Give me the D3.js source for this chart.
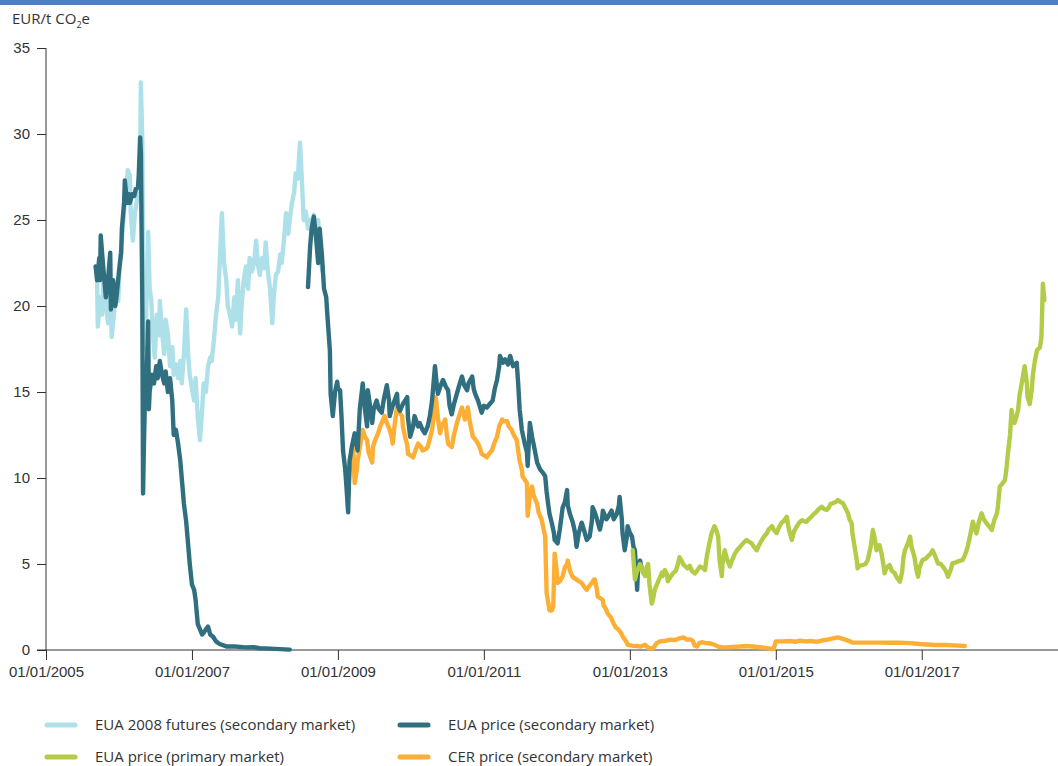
<!DOCTYPE html>
<html>
<head>
<meta charset="utf-8">
<script src="https://cdn.jsdelivr.net/npm/d3@7"></script>
<style>
  body { margin: 0; background: #fff; }
  svg { display: block; font-family: "Open Sans", sans-serif; }
  .axis text { font-size: 15px; fill: #333; }
  .axis path, .axis line { stroke: #333; }
</style>
</head>
<body>
<div id="chart"></div>
<script>
// Data (decimal year, EUR/t CO2e)___________________________

const euaFutures2008 = [
  [2005.70, 21.5], [2005.71, 18.8], [2005.74, 20.5], [2005.77, 19.5], [2005.79, 21.8], [2005.82, 20.2],
  [2005.85, 19.0], [2005.88, 20.8], [2005.90, 18.2], [2005.93, 19.5], [2005.96, 21.0], [2005.99, 20.3],
  [2006.01, 22.5], [2006.04, 23.8], [2006.07, 25.5], [2006.10, 26.8], [2006.12, 27.9], [2006.15, 27.6],
  [2006.16, 25.5], [2006.19, 23.8], [2006.22, 25.5], [2006.25, 26.2], [2006.27, 27.2], [2006.29, 28.5],
  [2006.30, 33.0], [2006.32, 29.5], [2006.33, 22.0], [2006.34, 17.5], [2006.37, 19.0], [2006.40, 24.3],
  [2006.42, 21.0], [2006.44, 20.5], [2006.47, 18.0], [2006.49, 17.0], [2006.52, 19.5], [2006.55, 18.3],
  [2006.56, 20.3], [2006.59, 18.5], [2006.62, 17.2], [2006.64, 19.2], [2006.67, 18.4], [2006.70, 16.5],
  [2006.73, 17.6], [2006.75, 16.0], [2006.78, 16.6], [2006.81, 15.8], [2006.84, 16.8], [2006.86, 15.5],
  [2006.89, 17.2], [2006.92, 19.8], [2006.95, 17.0], [2006.97, 16.0], [2007.00, 15.2], [2007.03, 14.5],
  [2007.05, 15.8], [2007.08, 13.5], [2007.11, 12.2], [2007.14, 14.0], [2007.16, 15.5], [2007.19, 15.0],
  [2007.22, 16.5], [2007.25, 17.0], [2007.27, 16.8], [2007.30, 18.0], [2007.33, 19.5], [2007.36, 20.5],
  [2007.38, 22.5], [2007.41, 25.4], [2007.44, 22.5], [2007.47, 21.5], [2007.49, 20.0], [2007.52, 19.5],
  [2007.55, 18.8], [2007.58, 20.5], [2007.60, 19.2], [2007.63, 21.5], [2007.66, 18.4], [2007.68, 20.0],
  [2007.71, 21.5], [2007.74, 22.3], [2007.77, 21.0], [2007.79, 22.8], [2007.82, 22.0], [2007.85, 22.5],
  [2007.88, 23.8], [2007.90, 22.5], [2007.93, 21.8], [2007.96, 22.8], [2007.99, 22.2], [2008.01, 23.7],
  [2008.04, 22.0], [2008.07, 21.0], [2008.10, 19.0], [2008.12, 20.5], [2008.15, 21.8], [2008.18, 22.0],
  [2008.21, 23.0], [2008.23, 22.5], [2008.26, 23.8], [2008.29, 25.4], [2008.32, 24.2], [2008.34, 25.0],
  [2008.37, 26.0], [2008.40, 26.6], [2008.42, 27.7], [2008.45, 27.4], [2008.48, 29.5], [2008.51, 27.0],
  [2008.53, 25.0], [2008.56, 25.5], [2008.59, 24.5], [2008.62, 25.0], [2008.64, 24.8], [2008.67, 25.3],
  [2008.70, 24.0], [2008.73, 25.0], [2008.75, 23.0], [2008.79, 22.0]
];

const euaSecondaryPhase1 = [
  [2005.68, 22.3], [2005.70, 21.5], [2005.73, 22.8], [2005.74, 21.5], [2005.75, 24.1], [2005.77, 23.0],
  [2005.79, 22.0], [2005.82, 20.5], [2005.85, 21.5], [2005.88, 23.1], [2005.89, 19.8], [2005.92, 21.5],
  [2005.95, 20.0], [2005.97, 20.7], [2006.00, 22.0], [2006.03, 23.1], [2006.04, 24.5], [2006.07, 26.0],
  [2006.08, 27.3], [2006.11, 26.0], [2006.14, 26.5], [2006.15, 26.0], [2006.18, 26.5], [2006.21, 26.4],
  [2006.23, 26.8], [2006.26, 26.9], [2006.27, 27.5], [2006.29, 29.8], [2006.30, 28.9], [2006.32, 20.0],
  [2006.33, 9.1], [2006.34, 11.5], [2006.36, 15.5], [2006.38, 16.0], [2006.40, 19.1], [2006.41, 14.0],
  [2006.42, 15.0], [2006.45, 16.0], [2006.48, 15.5], [2006.51, 16.5], [2006.53, 15.8], [2006.56, 16.8],
  [2006.59, 16.0], [2006.62, 15.5], [2006.64, 16.2], [2006.67, 15.0], [2006.70, 15.8], [2006.73, 14.5],
  [2006.75, 12.5], [2006.78, 12.8], [2006.81, 12.0], [2006.84, 11.0], [2006.86, 10.0], [2006.89, 8.5],
  [2006.92, 7.5], [2006.95, 6.0], [2006.97, 5.0], [2007.00, 3.8], [2007.03, 3.5], [2007.05, 2.9],
  [2007.08, 1.5], [2007.11, 1.2], [2007.14, 0.9], [2007.16, 1.0], [2007.19, 1.2], [2007.22, 1.36],
  [2007.25, 0.9], [2007.29, 0.77], [2007.33, 0.5], [2007.38, 0.35], [2007.48, 0.2], [2007.59, 0.2],
  [2007.73, 0.15], [2007.84, 0.17], [2007.93, 0.1], [2008.07, 0.08], [2008.21, 0.05], [2008.34, 0.02]
];

const euaSecondaryPhase2 = [
  [2008.59, 21.1], [2008.62, 23.5], [2008.64, 24.5], [2008.67, 25.2], [2008.70, 24.0], [2008.73, 22.5],
  [2008.75, 24.5], [2008.78, 23.0], [2008.81, 21.0], [2008.84, 20.5], [2008.85, 19.8], [2008.88, 18.0],
  [2008.89, 17.4], [2008.90, 14.9], [2008.93, 13.6], [2008.96, 15.0], [2008.99, 15.6], [2009.00, 15.2],
  [2009.03, 15.1], [2009.05, 13.5], [2009.07, 11.6], [2009.10, 10.5], [2009.12, 9.3], [2009.14, 8.0],
  [2009.15, 9.5], [2009.16, 11.0], [2009.19, 11.8], [2009.23, 12.6], [2009.27, 11.6], [2009.30, 14.0],
  [2009.34, 15.5], [2009.37, 14.0], [2009.40, 13.0], [2009.41, 15.1], [2009.44, 14.2], [2009.47, 13.2],
  [2009.49, 14.0], [2009.53, 14.5], [2009.56, 14.0], [2009.60, 13.8], [2009.63, 14.6], [2009.67, 15.4],
  [2009.70, 14.5], [2009.71, 13.6], [2009.75, 14.2], [2009.81, 14.9], [2009.82, 14.2], [2009.85, 13.9],
  [2009.89, 14.3], [2009.95, 14.7], [2009.96, 13.5], [2009.99, 12.4], [2010.03, 13.0], [2010.05, 13.6],
  [2010.10, 13.0], [2010.12, 13.2], [2010.16, 12.8], [2010.19, 12.6], [2010.23, 13.0], [2010.26, 13.6],
  [2010.29, 14.5], [2010.33, 16.5], [2010.36, 15.2], [2010.37, 14.9], [2010.41, 15.4], [2010.44, 15.7],
  [2010.48, 15.3], [2010.51, 15.1], [2010.53, 14.2], [2010.56, 13.7], [2010.59, 14.3], [2010.63, 14.9],
  [2010.67, 15.5], [2010.70, 15.9], [2010.73, 15.4], [2010.77, 15.1], [2010.79, 15.5], [2010.84, 15.9],
  [2010.86, 15.2], [2010.88, 14.9], [2010.92, 14.5], [2010.97, 13.8], [2011.00, 14.2], [2011.04, 14.1],
  [2011.08, 14.3], [2011.12, 14.5], [2011.15, 15.2], [2011.18, 15.7], [2011.21, 16.5], [2011.22, 17.1],
  [2011.26, 16.7], [2011.29, 16.9], [2011.33, 16.6], [2011.36, 17.1], [2011.40, 16.5], [2011.45, 16.7],
  [2011.47, 15.5], [2011.49, 14.0], [2011.52, 12.8], [2011.56, 12.0], [2011.59, 11.5], [2011.60, 10.7],
  [2011.63, 13.2], [2011.66, 12.4], [2011.68, 12.0], [2011.73, 10.9], [2011.77, 10.5], [2011.81, 10.3],
  [2011.84, 10.1], [2011.86, 9.2], [2011.88, 8.5], [2011.90, 7.9], [2011.93, 7.4], [2011.96, 6.8],
  [2011.97, 6.4], [2012.01, 6.2], [2012.04, 7.0], [2012.08, 8.3], [2012.11, 8.6], [2012.14, 9.3],
  [2012.15, 8.4], [2012.18, 7.9], [2012.22, 7.4], [2012.25, 6.8], [2012.27, 6.0], [2012.30, 6.8],
  [2012.34, 7.4], [2012.37, 7.0], [2012.41, 6.4], [2012.45, 6.6], [2012.48, 7.5], [2012.49, 8.3],
  [2012.52, 8.0], [2012.55, 7.6], [2012.59, 7.0], [2012.62, 7.6], [2012.63, 8.1], [2012.66, 7.8],
  [2012.68, 7.6], [2012.71, 7.8], [2012.75, 8.1], [2012.78, 7.6], [2012.82, 7.9], [2012.85, 8.4],
  [2012.86, 8.9], [2012.89, 7.6], [2012.90, 6.8], [2012.93, 5.8], [2012.96, 6.6], [2012.97, 7.2],
  [2013.00, 6.8], [2013.03, 6.6], [2013.05, 6.0], [2013.07, 5.8], [2013.10, 3.5], [2013.11, 4.5],
  [2013.14, 5.2], [2013.16, 4.8]
];

const cerSecondary = [
  [2009.14, 8.9], [2009.15, 9.8], [2009.16, 10.7], [2009.19, 11.5], [2009.21, 11.8], [2009.22, 10.5],
  [2009.23, 9.7], [2009.26, 10.5], [2009.27, 11.0], [2009.30, 11.8], [2009.33, 12.5], [2009.34, 12.8],
  [2009.37, 12.4], [2009.40, 12.2], [2009.42, 11.5], [2009.47, 10.9], [2009.48, 11.8], [2009.51, 12.2],
  [2009.55, 12.6], [2009.58, 13.0], [2009.60, 13.2], [2009.64, 13.6], [2009.67, 13.2], [2009.71, 12.8],
  [2009.74, 12.3], [2009.75, 12.0], [2009.78, 13.2], [2009.81, 14.1], [2009.84, 13.8], [2009.88, 13.6],
  [2009.89, 13.0], [2009.92, 12.4], [2009.95, 11.9], [2009.96, 11.4], [2010.00, 11.3], [2010.03, 11.2],
  [2010.07, 11.7], [2010.10, 12.0], [2010.14, 11.8], [2010.16, 11.6], [2010.21, 11.7], [2010.23, 11.8],
  [2010.26, 12.3], [2010.29, 12.8], [2010.32, 13.8], [2010.34, 14.7], [2010.37, 13.5], [2010.40, 12.6],
  [2010.42, 13.0], [2010.47, 13.4], [2010.49, 12.6], [2010.51, 12.0], [2010.53, 11.9], [2010.56, 11.8],
  [2010.59, 12.5], [2010.63, 13.2], [2010.66, 13.6], [2010.70, 14.1], [2010.73, 13.6], [2010.74, 13.4],
  [2010.77, 13.8], [2010.78, 14.1], [2010.81, 13.2], [2010.85, 12.4], [2010.89, 12.2], [2010.92, 12.0],
  [2010.95, 11.7], [2010.97, 11.4], [2011.01, 11.3], [2011.04, 11.2], [2011.07, 11.4], [2011.11, 11.6],
  [2011.14, 12.0], [2011.18, 12.4], [2011.21, 13.0], [2011.25, 13.4], [2011.27, 13.3], [2011.32, 13.3],
  [2011.34, 13.0], [2011.38, 12.8], [2011.41, 12.5], [2011.45, 12.2], [2011.47, 11.6], [2011.49, 11.0],
  [2011.52, 10.5], [2011.53, 10.1], [2011.56, 9.9], [2011.59, 9.7], [2011.60, 7.8], [2011.63, 9.0],
  [2011.66, 9.5], [2011.68, 9.0], [2011.73, 8.5], [2011.75, 8.0], [2011.79, 7.6], [2011.82, 7.0],
  [2011.84, 6.6], [2011.85, 5.0], [2011.86, 3.3], [2011.88, 2.8], [2011.90, 2.3], [2011.93, 2.3],
  [2011.95, 2.5], [2011.96, 4.0], [2011.97, 5.6], [2012.00, 4.5], [2012.01, 3.9], [2012.04, 4.0],
  [2012.07, 4.2], [2012.08, 4.3], [2012.11, 4.8], [2012.14, 5.0], [2012.15, 5.2], [2012.18, 4.6],
  [2012.21, 4.3], [2012.23, 4.2], [2012.27, 4.1], [2012.30, 4.0], [2012.34, 3.9], [2012.37, 3.7],
  [2012.41, 3.5], [2012.44, 3.7], [2012.48, 3.9], [2012.51, 4.1], [2012.52, 4.1], [2012.55, 3.5],
  [2012.56, 3.1], [2012.60, 3.0], [2012.63, 2.9], [2012.64, 2.6], [2012.67, 2.4], [2012.70, 2.1],
  [2012.74, 1.9], [2012.77, 1.6], [2012.81, 1.3], [2012.84, 1.2], [2012.88, 1.0], [2012.90, 0.8],
  [2012.95, 0.5], [2012.97, 0.3], [2013.03, 0.25], [2013.10, 0.23], [2013.15, 0.2], [2013.21, 0.3],
  [2013.26, 0.1], [2013.32, 0.1], [2013.37, 0.4], [2013.41, 0.5], [2013.48, 0.52], [2013.55, 0.6],
  [2013.62, 0.58], [2013.68, 0.68], [2013.74, 0.73], [2013.78, 0.6], [2013.82, 0.62], [2013.86, 0.55],
  [2013.89, 0.25], [2013.92, 0.2], [2013.95, 0.4], [2013.99, 0.45], [2014.04, 0.4], [2014.10, 0.39],
  [2014.15, 0.32], [2014.21, 0.2], [2014.26, 0.15], [2014.34, 0.16], [2014.42, 0.18], [2014.51, 0.2],
  [2014.60, 0.23], [2014.68, 0.2], [2014.78, 0.16], [2014.86, 0.12], [2014.95, 0.06], [2014.97, 0.05],
  [2015.00, 0.5], [2015.08, 0.5], [2015.19, 0.52], [2015.27, 0.48], [2015.33, 0.54], [2015.41, 0.5],
  [2015.49, 0.52], [2015.56, 0.48], [2015.63, 0.55], [2015.71, 0.6], [2015.78, 0.68], [2015.85, 0.73],
  [2015.92, 0.65], [2015.99, 0.55], [2016.05, 0.43], [2016.15, 0.43], [2016.29, 0.43], [2016.42, 0.43],
  [2016.56, 0.42], [2016.70, 0.43], [2016.84, 0.4], [2016.97, 0.35], [2017.08, 0.32], [2017.18, 0.29],
  [2017.32, 0.29], [2017.45, 0.27], [2017.59, 0.23]
];

const euaPrimary = [
  [2013.04, 5.8], [2013.07, 4.1], [2013.10, 4.6], [2013.11, 4.65], [2013.14, 5.0], [2013.16, 4.8],
  [2013.18, 4.5], [2013.21, 4.3], [2013.23, 4.8], [2013.25, 5.0], [2013.27, 3.8], [2013.30, 2.7],
  [2013.32, 3.0], [2013.34, 3.5], [2013.37, 3.8], [2013.38, 3.9], [2013.41, 4.2], [2013.44, 4.5],
  [2013.45, 4.3], [2013.48, 4.65], [2013.51, 4.4], [2013.52, 4.0], [2013.55, 4.2], [2013.59, 4.45],
  [2013.63, 4.6], [2013.66, 5.0], [2013.68, 5.4], [2013.71, 5.2], [2013.73, 5.0], [2013.75, 4.9],
  [2013.79, 4.75], [2013.82, 4.9], [2013.85, 4.6], [2013.89, 4.45], [2013.92, 4.6], [2013.96, 4.85],
  [2013.99, 4.8], [2014.03, 4.65], [2014.05, 5.3], [2014.07, 5.8], [2014.10, 6.4], [2014.12, 6.8],
  [2014.16, 7.2], [2014.19, 6.9], [2014.21, 6.6], [2014.23, 5.2], [2014.26, 4.3], [2014.27, 5.0],
  [2014.30, 5.8], [2014.33, 5.3], [2014.37, 4.85], [2014.40, 5.2], [2014.44, 5.6], [2014.47, 5.8],
  [2014.51, 6.0], [2014.55, 6.2], [2014.60, 6.4], [2014.63, 6.3], [2014.67, 6.2], [2014.70, 6.0],
  [2014.74, 5.8], [2014.77, 6.1], [2014.81, 6.4], [2014.84, 6.6], [2014.88, 6.8], [2014.90, 7.0],
  [2014.95, 7.2], [2014.97, 7.0], [2015.01, 6.8], [2015.04, 7.1], [2015.08, 7.4], [2015.11, 7.5],
  [2015.15, 7.75], [2015.18, 7.0], [2015.22, 6.4], [2015.25, 6.9], [2015.29, 7.2], [2015.32, 7.4],
  [2015.36, 7.55], [2015.38, 7.5], [2015.42, 7.45], [2015.45, 7.6], [2015.49, 7.75], [2015.52, 7.9],
  [2015.56, 8.05], [2015.59, 8.2], [2015.63, 8.33], [2015.66, 8.2], [2015.70, 8.14], [2015.73, 8.3],
  [2015.75, 8.5], [2015.78, 8.53], [2015.82, 8.6], [2015.85, 8.72], [2015.89, 8.6], [2015.92, 8.53],
  [2015.96, 8.2], [2015.99, 7.95], [2016.01, 7.6], [2016.04, 7.36], [2016.05, 6.8], [2016.08, 6.0],
  [2016.11, 5.2], [2016.12, 4.75], [2016.15, 4.9], [2016.19, 4.94], [2016.23, 5.0], [2016.26, 5.23],
  [2016.30, 6.0], [2016.33, 6.98], [2016.36, 6.4], [2016.38, 5.8], [2016.40, 6.0], [2016.42, 6.1],
  [2016.45, 5.6], [2016.48, 4.8], [2016.49, 4.46], [2016.52, 4.8], [2016.56, 4.94], [2016.59, 4.6],
  [2016.63, 4.46], [2016.66, 4.2], [2016.70, 3.97], [2016.73, 4.5], [2016.75, 5.4], [2016.77, 5.8],
  [2016.81, 6.2], [2016.84, 6.6], [2016.86, 6.0], [2016.90, 5.4], [2016.93, 4.6], [2016.95, 4.26],
  [2016.97, 4.8], [2017.01, 5.23], [2017.05, 5.3], [2017.08, 5.43], [2017.12, 5.6], [2017.15, 5.8],
  [2017.19, 5.4], [2017.22, 5.04], [2017.26, 5.0], [2017.29, 4.85], [2017.33, 4.6], [2017.36, 4.26],
  [2017.40, 4.7], [2017.42, 5.04], [2017.47, 5.1], [2017.49, 5.14], [2017.53, 5.2], [2017.56, 5.23],
  [2017.60, 5.6], [2017.63, 6.01], [2017.67, 6.8], [2017.70, 7.46], [2017.73, 7.0], [2017.75, 6.78],
  [2017.78, 7.4], [2017.82, 7.95], [2017.85, 7.6], [2017.89, 7.36], [2017.92, 7.2], [2017.96, 6.98],
  [2017.99, 7.5], [2018.03, 7.95], [2018.04, 8.2], [2018.07, 9.5], [2018.11, 9.7], [2018.14, 9.88],
  [2018.16, 10.5], [2018.18, 11.4], [2018.21, 12.5], [2018.23, 13.95], [2018.25, 13.4], [2018.27, 13.2],
  [2018.30, 13.6], [2018.32, 13.95], [2018.34, 14.8], [2018.37, 15.5], [2018.41, 16.5], [2018.44, 15.5],
  [2018.45, 14.7], [2018.48, 14.3], [2018.51, 15.2], [2018.52, 15.9], [2018.55, 16.8], [2018.58, 17.44],
  [2018.62, 17.6], [2018.64, 18.2], [2018.66, 21.3], [2018.67, 20.8], [2018.68, 20.35]
];

const xTicks = [2005, 2007, 2009, 2011, 2013, 2015, 2017];
const yTicks = [0, 5, 10, 15, 20, 25, 30, 35];
const unitLabel = "EUR/t CO";

const legendItems = [
  { label: "EUA 2008 futures (secondary market)", color: "#aee0ea" },
  { label: "EUA price (secondary market)", color: "#306f80" },
  { label: "EUA price (primary market)", color: "#b3cc47" },
  { label: "CER price (secondary market)", color: "#fdae34" }
];

// Layout____________________________________________________
const width = 1058;
const height = 766;
const plotLeft = 46;
const plotTop = 48;
const plotBottom = 650;

const svg = d3.select("#chart")
  .append("svg")
  .attr("width", width)
  .attr("height", height);

// top banner
svg.append("rect")
  .attr("x", 0).attr("y", 0)
  .attr("width", width).attr("height", 5)
  .attr("fill", "#4f81bd");

// Scales____________________________________________________
const xScale = d3.scaleLinear()
  .domain([2005, 2018.73])
  .range([plotLeft, 1048]);

const yScale = d3.scaleLinear()
  .domain([0, 35])
  .range([plotBottom, plotTop]);

// unit label
const unit = svg.append("text")
  .attr("x", 12)
  .attr("y", 24)
  .attr("fill", "#333")
  .style("font-size", "15px");
unit.append("tspan").text(unitLabel);
unit.append("tspan").attr("dy", 4).style("font-size", "9px").text("2");
unit.append("tspan").attr("dy", -4).text("e");

// Axes______________________________________________________
const yAxis = d3.axisLeft(yScale)
  .tickValues(yTicks)
  .tickSize(9)
  .tickPadding(7)
  .tickSizeOuter(0);

svg.append("g")
  .attr("class", "axis")
  .attr("transform", `translate(${plotLeft},0)`)
  .call(yAxis)
  .call(g => g.select(".domain").remove())
  .call(g => g.append("line")
    .attr("x1", 0).attr("x2", 0)
    .attr("y1", plotTop).attr("y2", plotBottom)
    .attr("stroke", "#333"));

const xAxis = d3.axisBottom(xScale)
  .tickValues(xTicks)
  .tickFormat(d => "01/01/" + d)
  .tickSize(10)
  .tickPadding(6)
  .tickSizeOuter(0);

svg.append("g")
  .attr("class", "axis")
  .attr("transform", `translate(0,${plotBottom})`)
  .call(xAxis)
  .call(g => g.select(".domain").remove())
  .call(g => g.append("line")
    .attr("x1", 37).attr("x2", width)
    .attr("y1", 0).attr("y2", 0)
    .attr("stroke", "#333"));

// Lines_____________________________________________________
const line = d3.line()
  .x(d => xScale(d[0]))
  .y(d => yScale(d[1]));

const series = [
  { data: euaFutures2008, color: legendItems[0].color },
  { data: cerSecondary, color: legendItems[3].color },
  { data: euaSecondaryPhase1, color: legendItems[1].color },
  { data: euaSecondaryPhase2, color: legendItems[1].color },
  { data: euaPrimary, color: legendItems[2].color }
];

svg.append("g")
  .selectAll("path")
  .data(series)
  .enter()
  .append("path")
  .attr("d", d => line(d.data))
  .attr("fill", "none")
  .attr("stroke", d => d.color)
  .attr("stroke-width", 4.4)
  .attr("stroke-linejoin", "round")
  .attr("stroke-linecap", "round");

// Legend____________________________________________________
const legend = svg.append("g")
  .selectAll("g")
  .data(legendItems)
  .enter()
  .append("g")
  .attr("transform", (d, i) => `translate(${i % 2 === 0 ? 45 : 398},${i < 2 ? 725 : 757})`);

legend.append("line")
  .attr("x1", 2).attr("x2", 30)
  .attr("y1", 0).attr("y2", 0)
  .attr("stroke", d => d.color)
  .attr("stroke-width", 5)
  .attr("stroke-linecap", "round");

legend.append("text")
  .attr("x", 50)
  .attr("y", 0)
  .attr("dy", "0.35em")
  .attr("fill", "#333")
  .style("font-size", "15px")
  .text(d => d.label);
</script>
</body>
</html>
